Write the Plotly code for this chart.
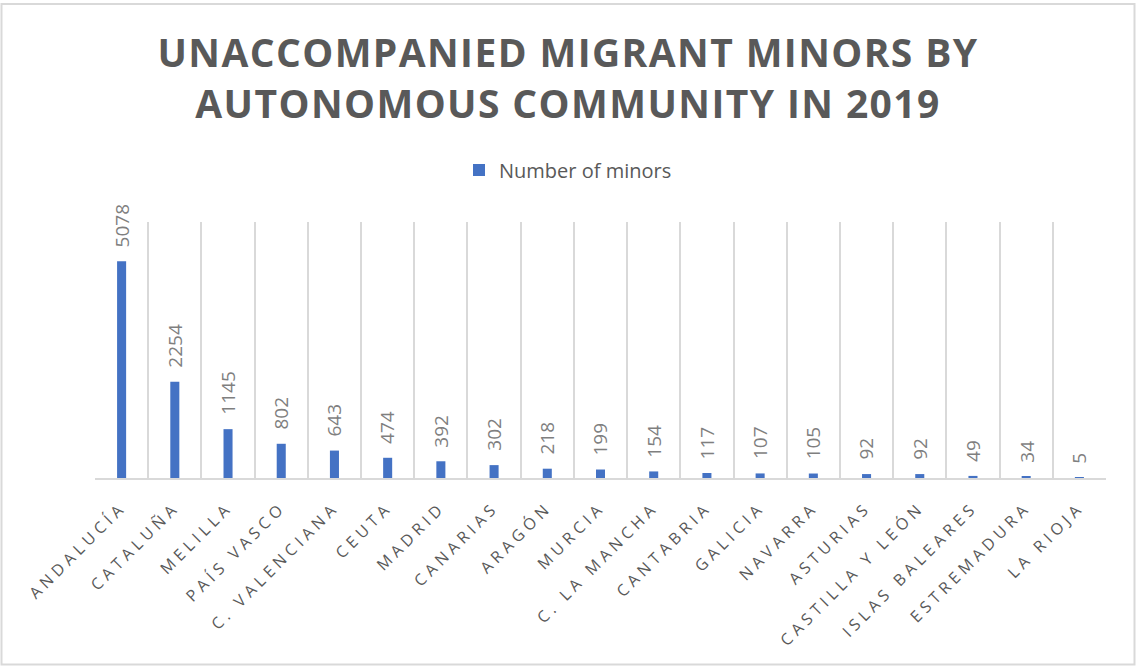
import plotly.graph_objects as go

categories = ["ANDALUCÍA", "CATALUÑA", "MELILLA", "PAÍS VASCO", "C. VALENCIANA", "CEUTA",
              "MADRID", "CANARIAS", "ARAGÓN", "MURCIA", "C. LA MANCHA", "CANTABRIA",
              "GALICIA", "NAVARRA", "ASTURIAS", "CASTILLA Y LEÓN", "ISLAS BALEARES",
              "ESTREMADURA", "LA RIOJA"]
minors = [5078, 2254, 1145, 802, 643, 474, 392, 302, 218, 199, 154, 117, 107, 105, 92, 92, 49, 34, 5]
series_name = "Number of minors"
title_lines = ["UNACCOMPANIED MIGRANT MINORS BY", "AUTONOMOUS COMMUNITY IN 2019"]

W, H = 1136, 666
L, R, T, B = 95, 30, 222, 188
pw, ph = W - L - R, H - T - B

fig = go.Figure()
fig.add_trace(go.Bar(
    x=categories, y=minors, name=series_name,
    marker=dict(color="#4472C4", line=dict(width=0)),
    showlegend=True,
))

for c, v in zip(categories, minors):
    fig.add_annotation(x=c, y=v, text=str(v), textangle=-90, showarrow=False,
                       yanchor="bottom", yshift=12,
                       font=dict(family="Open Sans", size=19, color="#7F7F7F"))

def spaced(s, px):
    return '<span style="letter-spacing:%spx">%s</span>' % (px, s)

fig.update_layout(
    width=W, height=H,
    margin=dict(l=L, r=R, t=T, b=B, autoexpand=False),
    paper_bgcolor="white", plot_bgcolor="white",
    bargap=0.83,
    title=dict(
        text="<br>".join(spaced(t, 1.4) for t in title_lines),
        x=0.5, xref="container", xanchor="center",
        y=1 - 67 / H, yref="container", yanchor="middle",
        font=dict(family="Open Sans", size=39, color="#595959", weight="bold"),
    ),
    legend=dict(
        orientation="h", x=0.5, xref="container", xanchor="center",
        y=1 - 170 / H, yref="container", yanchor="middle",
        font=dict(family="Open Sans", size=20, color="#595959"),
        itemsizing="constant", itemwidth=30,
    ),
    xaxis=dict(
        type="category", tickson="boundaries",
        tickmode="array", tickvals=categories,
        ticktext=[spaced(c, 4.5) for c in categories],
        tickangle=-45, ticks="", automargin=False, ticklabelstandoff=12,
        showgrid=True, gridcolor="#D9D9D9", gridwidth=1.5,
        showline=True, linecolor="#D9D9D9", linewidth=1.5,
        tickfont=dict(family="Open Sans", size=16, color="#595959"),
    ),
    yaxis=dict(range=[0, 6000], visible=False, showgrid=False, zeroline=False),
)

fig.add_shape(type="rect", xref="paper", yref="paper",
              x0=(1.5 - L) / pw, x1=(1134.5 - L) / pw,
              y0=(H - B - 664.5) / ph, y1=(H - B - 4) / ph,
              line=dict(color="#D9D9D9", width=2), fillcolor="rgba(0,0,0,0)", layer="below")

fig.write_html("out.html")
